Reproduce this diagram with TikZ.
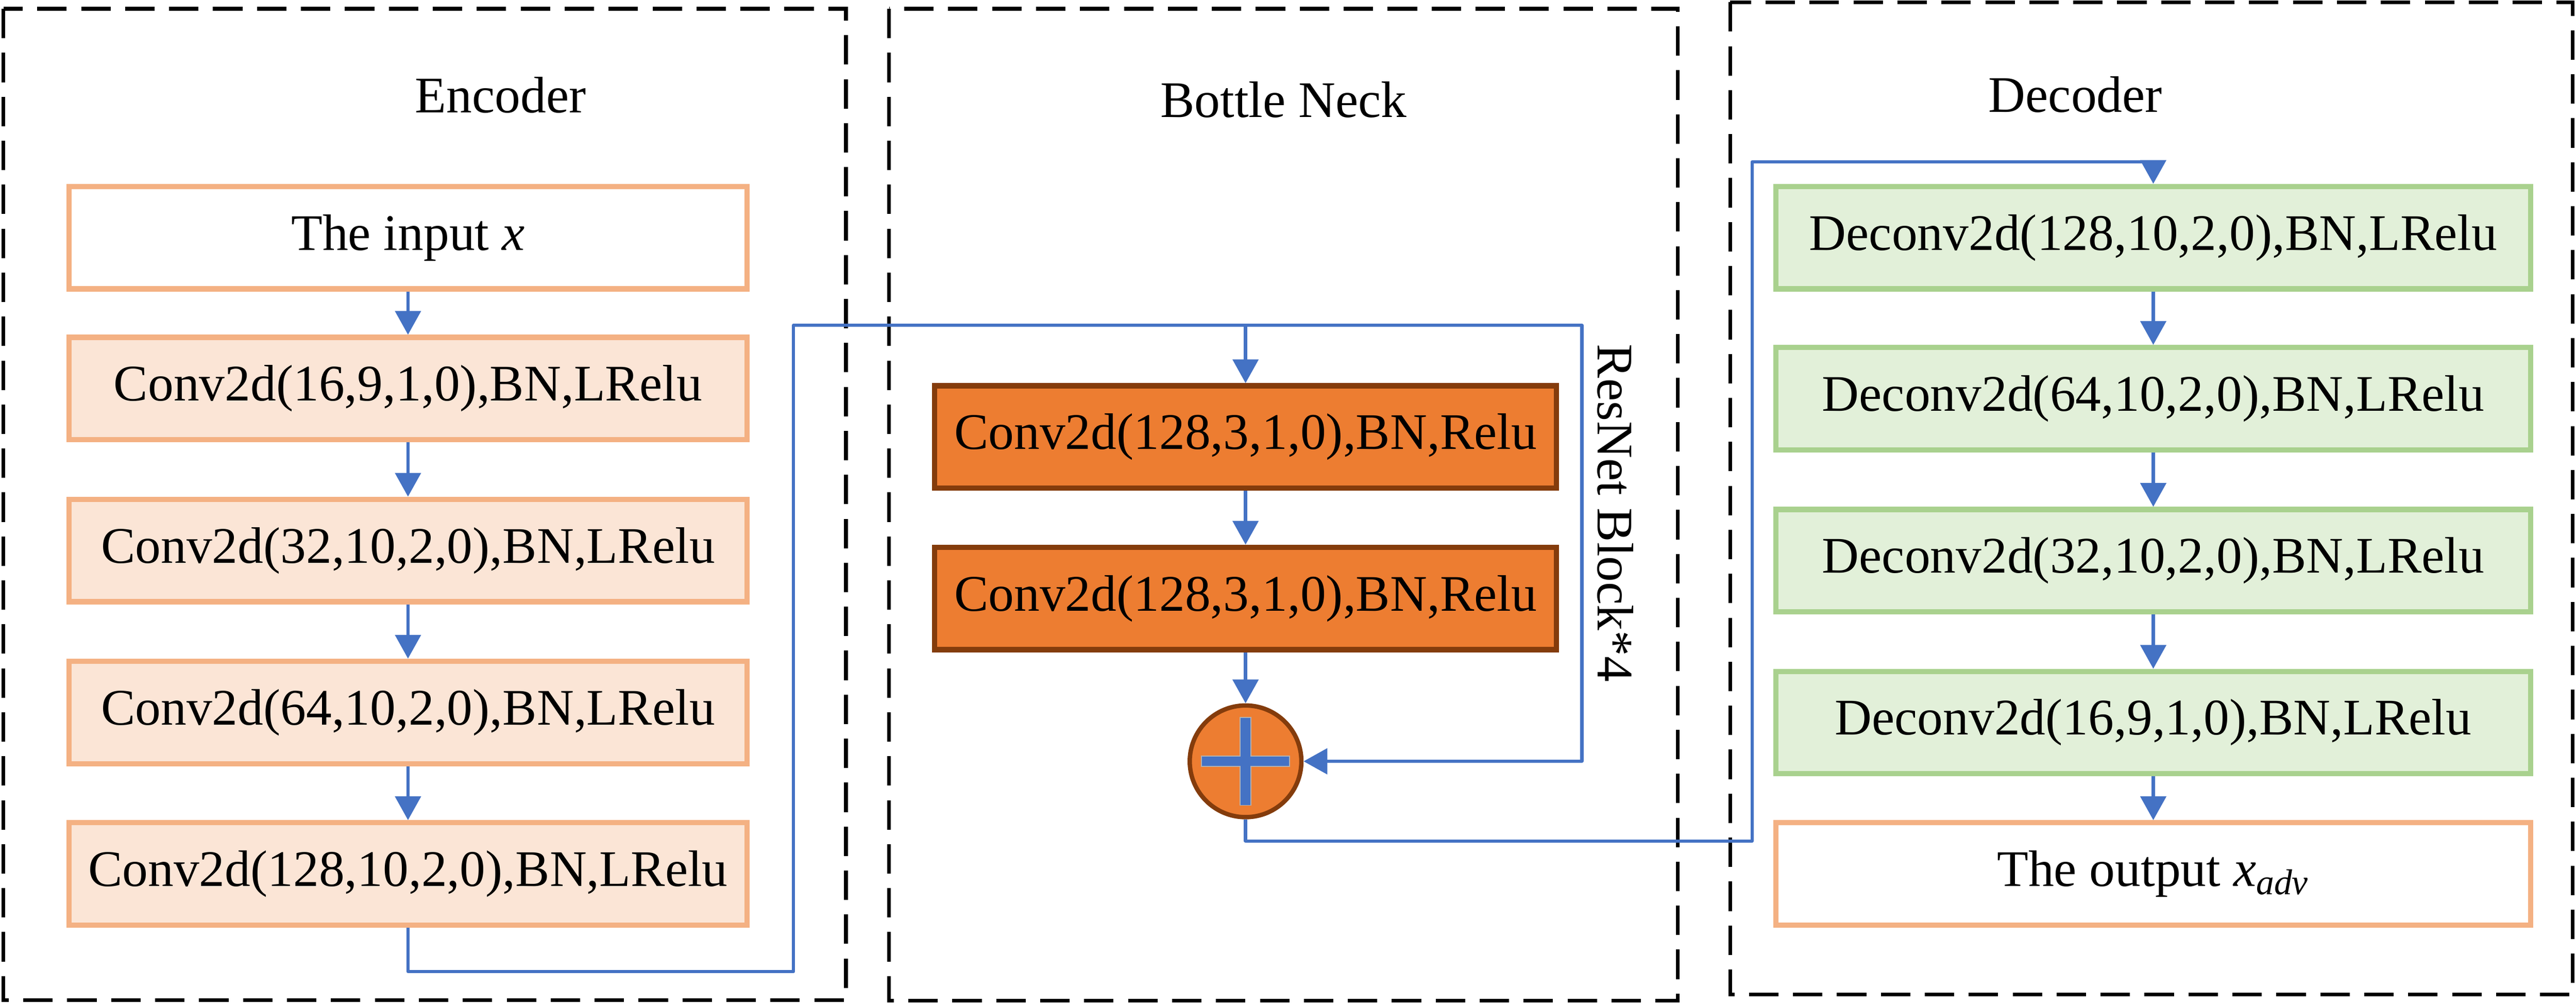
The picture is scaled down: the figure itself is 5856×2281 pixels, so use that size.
\documentclass[tikz,border=0pt]{standalone}
\usepackage{fontspec}
\setmainfont{Liberation Serif}
\usetikzlibrary{arrows.meta}
\definecolor{encfill}{HTML}{FBE5D6}
\definecolor{encdraw}{HTML}{F4B183}
\definecolor{bnfill}{HTML}{ED7D31}
\definecolor{bndraw}{HTML}{843C0C}
\definecolor{decfill}{HTML}{E2F0D9}
\definecolor{decdraw}{HTML}{A9D18E}
\definecolor{flow}{HTML}{4472C4}
\begin{document}
\begin{tikzpicture}[x=0.005cm,y=-0.005cm,
  every node/.style={font=\fontsize{16.6}{20}\selectfont, inner sep=0pt},
  layer/.style={draw, line width=0.06cm, minimum height=1.165cm, align=center},
  enc/.style={layer, draw=encdraw, fill=encfill, minimum width=7.715cm},
  io/.style={layer, draw=encdraw, fill=white},
  bn/.style={layer, draw=bndraw, fill=bnfill, minimum width=7.075cm},
  dec/.style={layer, draw=decdraw, fill=decfill, minimum width=8.59cm},
  groupframe/.style={draw=black, line width=0.042cm, dash pattern=on 0.335cm off 0.165cm},
  flowline/.style={draw=flow, line width=0.037cm, line join=round},
  flowarrow/.style={flowline, -{Triangle[length=0.27cm,width=0.29cm]}},
]
\useasboundingbox (0,0) rectangle (5856,2281);

% group frames
\draw[groupframe] (8,20) rectangle (1923,2273);
\draw[groupframe] (2021,20) rectangle (3814,2274);
\draw[groupframe] (3933,5) rectangle (5848,2260);

% group labels
\node[anchor=base] (enclabel) at (1138,256) {Encoder};
\node[anchor=base] (bnlabel) at (2918,266) {Bottle Neck};
\node[anchor=base] (declabel) at (4718,255) {Decoder};

% encoder
\node[io, minimum width=7.715cm] (in) at (927.5,540) {The input \textit{x}};
\node[enc] (c1) at (927.5,883) {Conv2d(16,9,1,0),BN,LRelu};
\node[enc] (c2) at (927.5,1251) {Conv2d(32,10,2,0),BN,LRelu};
\node[enc] (c3) at (927.5,1619) {Conv2d(64,10,2,0),BN,LRelu};
\node[enc] (c4) at (927.5,1986) {Conv2d(128,10,2,0),BN,LRelu};

% bottleneck
\node[bn] (b1) at (2831.5,993) {Conv2d(128,3,1,0),BN,Relu};
\node[bn] (b2) at (2831.5,1360) {Conv2d(128,3,1,0),BN,Relu};
\node[circle, draw=bndraw, fill=bnfill, line width=0.05cm, minimum size=1.27cm] (plus) at (2831.5,1730) {};
\draw[fill=flow, draw=black!30, line width=0.3pt]
  (2731.5,1718) -- (2819.5,1718) -- (2819.5,1630) -- (2843.5,1630) -- (2843.5,1718)
  -- (2931.5,1718) -- (2931.5,1742) -- (2843.5,1742) -- (2843.5,1830) -- (2819.5,1830)
  -- (2819.5,1742) -- (2731.5,1742) -- cycle;
\node[rotate=-90, anchor=base] (reslabel) at (3633,1166) {ResNet Block*4};

% decoder
\node[dec] (d1) at (4895,540) {Deconv2d(128,10,2,0),BN,LRelu};
\node[dec] (d2) at (4895,906) {Deconv2d(64,10,2,0),BN,LRelu};
\node[dec] (d3) at (4895,1274) {Deconv2d(32,10,2,0),BN,LRelu};
\node[dec] (d4) at (4895,1642) {Deconv2d(16,9,1,0),BN,LRelu};
\node[io, minimum width=8.59cm] (out) at (4895,1986) {The output \textit{x}\textsubscript{\textit{adv}}};

% encoder arrows
\draw[flowarrow] (in.south) -- (c1.north);
\draw[flowarrow] (c1.south) -- (c2.north);
\draw[flowarrow] (c2.south) -- (c3.north);
\draw[flowarrow] (c3.south) -- (c4.north);

% encoder -> bottleneck
\coordinate (e1) at (927.5,2208);
\coordinate (e2) at (1804,2208);
\coordinate (e3) at (1804,739);
\coordinate (e4) at (2831.5,739);
\coordinate (e5) at (3596,739);
\coordinate (e6) at (3596,1730);
\draw[flowline] (c4.south) -- (e1) -- (e2) -- (e3) -- (e4);
\draw[flowarrow] (e4) -- (b1.north);
\draw[flowarrow] (e4) -- (e5) -- (e6) -- (plus.east);
\draw[flowarrow] (b1.south) -- (b2.north);
\draw[flowarrow] (b2.south) -- (plus.north);

% bottleneck -> decoder
\coordinate (f1) at (2831.5,1911);
\coordinate (f2) at (3983,1911);
\coordinate (f3) at (3983,368);
\coordinate (f4) at (4895,368);
\draw[flowarrow] (plus.south) -- (f1) -- (f2) -- (f3) -- (f4) -- (d1.north);

% decoder arrows
\draw[flowarrow] (d1.south) -- (d2.north);
\draw[flowarrow] (d2.south) -- (d3.north);
\draw[flowarrow] (d3.south) -- (d4.north);
\draw[flowarrow] (d4.south) -- (out.north);
\end{tikzpicture}
\end{document}
